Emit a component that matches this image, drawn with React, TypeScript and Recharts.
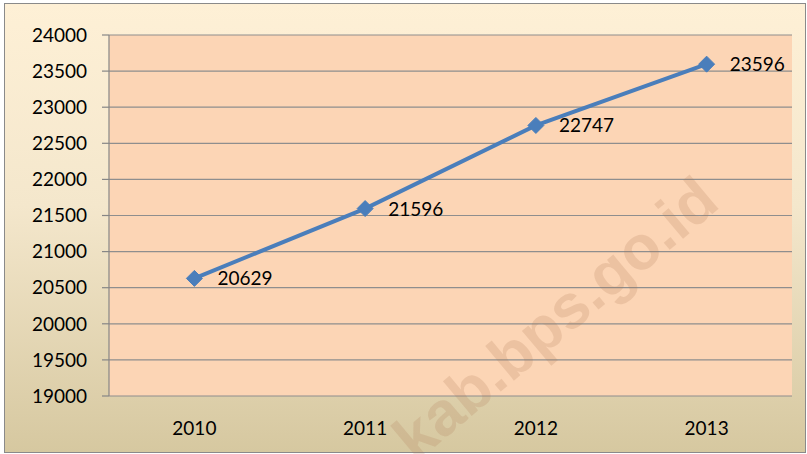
import React from "react";
import { LineChart, Line, XAxis, YAxis, CartesianGrid, LabelList } from "recharts";

const years = ["2010", "2011", "2012", "2013"];
const values = [20629, 21596, 22747, 23596];
const yTicks = [19000, 19500, 20000, 20500, 21000, 21500, 22000, 22500, 23000, 23500, 24000];
const boundaryTicks = [0, 1, 2, 3, 4];

const data = years.map((y, i) => ({ year: y, value: values[i] }));

const FONT = "Lato, 'Open Sans', sans-serif";

const Diamond = (props: any) => {
  const { cx, cy } = props;
  if (cx == null || cy == null) return null;
  const r = 8;
  return (
    <path
      d={`M${cx},${cy - r} L${cx + r},${cy} L${cx},${cy + r} L${cx - r},${cy} Z`}
      fill="#4A7EBB"
      stroke="#4A7EBB"
      strokeWidth={1}
    />
  );
};

const ValueLabel = (props: any) => {
  const { x, y, value } = props;
  return (
    <text x={x + 23} y={y + 7} fontSize={19} fontFamily={FONT} fill="#000">
      {value}
    </text>
  );
};

export default function App() {
  return (
    <div style={{ position: "absolute", left: 0, top: 0, width: 807, height: 454, overflow: "hidden" }}>
      <div
        style={{
          position: "absolute",
          left: 4,
          top: 3,
          width: 800,
          height: 448,
          border: "1px solid #8a8a8a",
          background: "linear-gradient(to bottom, #FEF0D6 0%, #F4E7CC 45%, #D6C8A0 100%)",
        }}
      />
      <div style={{ position: "absolute", left: 0, top: 0 }}>
        <LineChart width={807} height={454} data={data} margin={{ top: 35, right: 15, bottom: 0, left: 0 }}>
          <CartesianGrid vertical={false} fill="#FCD5B5" stroke="#8E8E8E" strokeWidth={1.2} />
          <XAxis
            xAxisId="b"
            type="number"
            domain={[0, 4]}
            ticks={boundaryTicks}
            height={0}
            axisLine={{ stroke: "#868686", strokeWidth: 1.2 }}
            tickLine={{ stroke: "#868686", strokeWidth: 1.2 }}
            tickSize={6}
            tick={() => <g />}
            allowDataOverflow
          />
          <XAxis
            dataKey="year"
            scale="band"
            height={58}
            axisLine={false}
            tickLine={false}
            tickMargin={20}
            tick={{ fontSize: 19, fontFamily: FONT, fill: "#000" }}
          />
          <YAxis
            domain={[19000, 24000]}
            ticks={yTicks}
            width={109}
            interval={0}
            axisLine={{ stroke: "#868686", strokeWidth: 1.2 }}
            tickLine={{ stroke: "#868686", strokeWidth: 1.2 }}
            tickSize={7}
            tickMargin={15}
            tick={{ fontSize: 19, fontFamily: FONT, fill: "#000" }}
          />
          <Line
            dataKey="value"
            stroke="#4A7EBB"
            strokeWidth={4}
            dot={<Diamond />}
            activeDot={false}
            isAnimationActive={false}
          >
            <LabelList dataKey="value" content={<ValueLabel />} />
          </Line>
        </LineChart>
      </div>
      <div
        style={{
          position: "absolute",
          left: 555,
          top: 318,
          transform: "translate(-50%, -50%) rotate(-40deg)",
          fontFamily: "'Liberation Sans', Arial, sans-serif",
          fontWeight: 700,
          fontSize: 62,
          color: "rgba(175, 120, 85, 0.2)",
          whiteSpace: "nowrap",
          pointerEvents: "none",
        }}
      >
        kab.bps.go.id
      </div>
    </div>
  );
}
